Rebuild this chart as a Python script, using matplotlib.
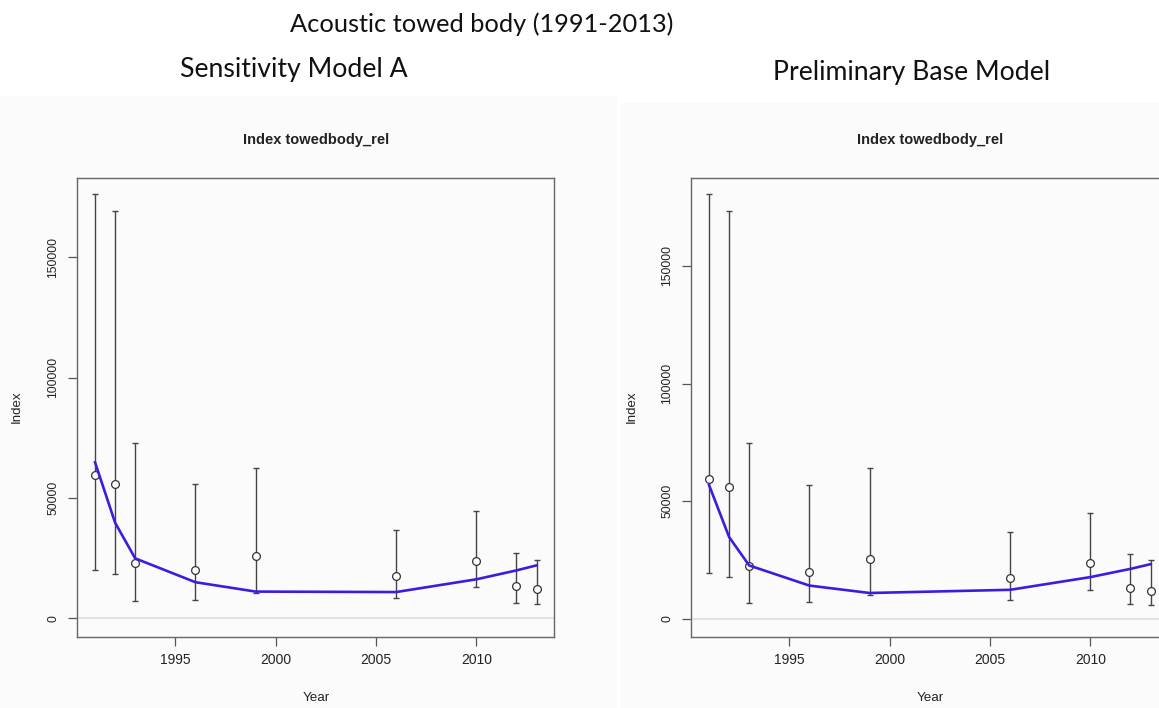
import matplotlib
matplotlib.use("Agg")
import matplotlib.pyplot as plt
import numpy as np

plt.rcParams["font.family"] = ["Liberation Sans", "DejaVu Sans"]

# survey years with an index value
years = [1991, 1992, 1993, 1996, 1999, 2006, 2010, 2012, 2013]

# Sensitivity Model A
obs_a = [59400, 55900, 22800, 20100, 25800, 17400, 23700, 13400, 12100]
upper_a = [176200, 169200, 72800, 55800, 62600, 36500, 44400, 27100, 24400]
lower_a = [20100, 18400, 7000, 7400, 10500, 8400, 12900, 6500, 5800]
fit_a = [64800, 39700, 24900, 15000, 11100, 10900, 16200, 19900, 22000]

# Preliminary Base Model
obs_b = [59350, 56050, 22400, 20100, 25550, 17300, 23900, 13350, 12000]
upper_b = [180500, 173400, 74700, 57000, 64300, 37100, 45200, 27700, 24900]
lower_b = [19500, 18000, 6800, 7100, 10400, 8100, 12500, 6400, 5800]
fit_b = [56900, 34800, 22750, 14200, 11050, 12400, 17800, 21300, 23300]

yticks = [0, 50000, 100000, 150000]
xticks = [1995, 2000, 2005, 2010]

W, H = 1159, 708
fig = plt.figure(figsize=(W / 100, H / 100), dpi=100)
fig.patch.set_facecolor("white")

# faint backgrounds of the two pasted R images
bg = fig.add_axes([0, 0, 1, 1], zorder=-10)
bg.set_xlim(0, W)
bg.set_ylim(H, 0)
bg.axis("off")
bg.add_patch(plt.Rectangle((0, 96), 617, H - 96, facecolor="#fbfbfb", edgecolor="none"))
bg.add_patch(plt.Rectangle((620, 103), W - 620, H - 103, facecolor="#fbfbfb", edgecolor="none"))

fig.text(290 / W, 1 - 31.5 / H, "Acoustic towed body (1991-2013)", family="Lato",
         fontsize=18.3, ha="left", va="baseline", color="#111111")
fig.text(294 / W, 1 - 77 / H, "Sensitivity Model A", family="Lato",
         fontsize=19.2, ha="center", va="baseline", color="#111111")
fig.text(912 / W, 1 - 80 / H, "Preliminary Base Model", family="Lato",
         fontsize=19.2, ha="center", va="baseline", color="#111111")

ax_w = 476.8 / W
ax_h = 459 / H
ax_bottom = (H - 636.7) / H

panels = [
    (77.4, obs_a, upper_a, lower_a, fit_a, (-7650, 183100), -0.127),
    (691.4, obs_b, upper_b, lower_b, fit_b, (-7520, 187500), -0.125),
]

for left, obs, upper, lower, fit, ylim, ylab_x in panels:
    ax = fig.add_axes([left / W, ax_bottom, ax_w, ax_h], zorder=1)
    ax.set_facecolor("none")
    obs = np.array(obs)
    yerr = [obs - np.array(lower), np.array(upper) - obs]

    ax.axhline(0, color="#dddddd", lw=1.2, zorder=1)
    ax.errorbar(years, obs, yerr=yerr, fmt="none", ecolor="#444444",
                elinewidth=1.0, capsize=2.2, capthick=1.0, zorder=2)
    ax.plot(years, obs, "o", ms=5.6, mfc="white", mec="#333333", mew=0.9, zorder=3)
    ax.plot(years, fit, color="#3a1ee0", lw=1.9, zorder=4)

    ax.set_xlim(1990.12, 2013.88)
    ax.set_ylim(*ylim)
    ax.set_xticks(xticks)
    ax.set_yticks(yticks)
    ax.set_yticklabels([str(t) for t in yticks], rotation=90, va="center")
    ax.tick_params(axis="both", direction="out", length=6.5, width=0.9,
                   color="#555555", labelcolor="#222222")
    ax.tick_params(axis="x", pad=5.5, labelsize=10)
    ax.tick_params(axis="y", pad=6.5, labelsize=8.8)
    for sp in ax.spines.values():
        sp.set_color("#666666")
        sp.set_linewidth(1.0)

    ax.text(0.5, (636.7 - 140) / 459, "Index towedbody_rel", transform=ax.transAxes,
            ha="center", va="center", fontsize=10.5, fontweight="bold", color="#222222")
    ax.text(0.5, -0.1329, "Year", transform=ax.transAxes, ha="center", va="center",
            fontsize=9.6, color="#222222")
    ax.text(ylab_x, 0.5, "Index", transform=ax.transAxes, ha="center", va="center",
            rotation=90, fontsize=9.5, color="#222222")

fig.savefig("out.png", dpi=100)
